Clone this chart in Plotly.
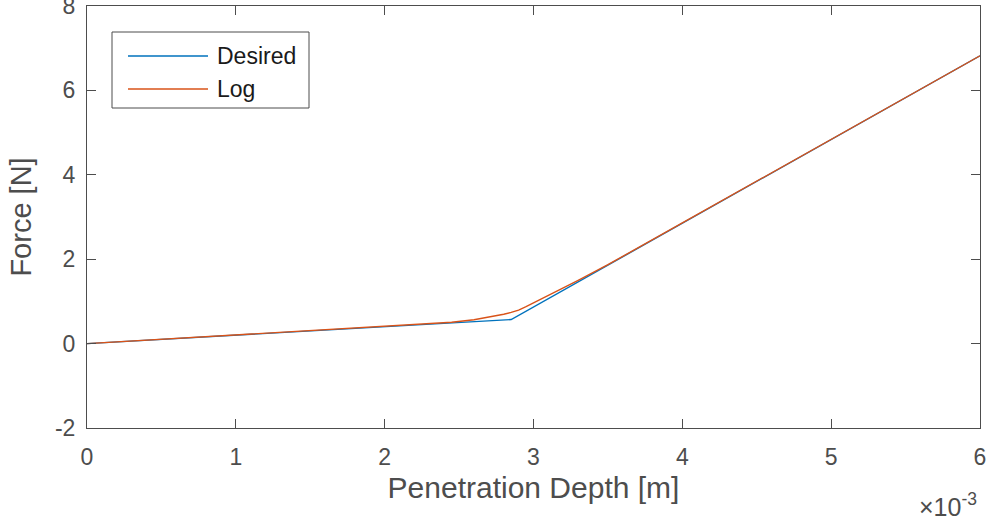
import plotly.graph_objects as go

# Data (x in metres, force in N)
desired_x = [0.0, 0.00285, 0.006]
desired_y = [0.0, 0.57, 6.82]

log_x = [0.0, 0.0005, 0.001, 0.0015, 0.002, 0.0023, 0.00245, 0.0026, 0.0027, 0.0028,
         0.00285, 0.0029, 0.00295, 0.003, 0.0031, 0.0032, 0.0033, 0.0034, 0.0035,
         0.004, 0.005, 0.006]
log_y = [0.0, 0.10, 0.20, 0.30, 0.40, 0.46, 0.505, 0.565, 0.625, 0.695,
         0.74, 0.795, 0.875, 0.96, 1.14, 1.32, 1.50, 1.68, 1.87,
         2.86, 4.84, 6.82]

x_tickvals = [0, 0.001, 0.002, 0.003, 0.004, 0.005, 0.006]
x_ticktext = ["0", "1", "2", "3", "4", "5", "6"]
y_tickvals = [-2, 0, 2, 4, 6, 8]
y_ticktext = ["-2", "0", "2", "4", "6", "8"]

series_names = ["Desired", "Log"]
series_colors = ["#0072BD", "#D95319"]

AX = "#4d4d4d"
FONT = "Liberation Sans, Arial, Helvetica, sans-serif"

fig = go.Figure()
fig.add_trace(go.Scatter(x=desired_x, y=desired_y, mode="lines", name=series_names[0],
                         line=dict(color=series_colors[0], width=1.4), showlegend=False))
fig.add_trace(go.Scatter(x=log_x, y=log_y, mode="lines", name=series_names[1],
                         line=dict(color=series_colors[1], width=1.4), showlegend=False))

axis_common = dict(showgrid=False, zeroline=False, showline=True, mirror="ticks",
                   linecolor=AX, linewidth=1, ticks="inside", ticklen=9, tickcolor=AX,
                   ticklabeloverflow="allow", automargin=False,
                   tickfont=dict(family=FONT, size=23, color=AX))

fig.update_layout(
    width=990, height=520,
    margin=dict(l=87, r=10, t=6, b=92),
    paper_bgcolor="white", plot_bgcolor="white",
    font=dict(family=FONT, color=AX),
    xaxis=dict(range=[0, 0.006], tickvals=x_tickvals, ticktext=x_ticktext,
               ticklabelstandoff=8,
               title=dict(text="Penetration Depth [m]", font=dict(size=30, family=FONT, color=AX), standoff=8),
               **axis_common),
    yaxis=dict(range=[-2, 8], tickvals=y_tickvals, ticktext=y_ticktext,
               ticklabelstandoff=6,
               title=dict(text="Force [N]", font=dict(size=29, family=FONT, color=AX), standoff=14),
               **axis_common),
    showlegend=False,
)

# Custom MATLAB-style legend (paper coordinates of plot area 87..980 x, 6..428 y)
def px_x(p):
    return (p - 87) / 893.0

def px_y(p):
    return (428 - p) / 422.0

fig.add_shape(type="rect", xref="paper", yref="paper",
              x0=px_x(112), x1=px_x(309), y0=px_y(108), y1=px_y(32),
              line=dict(color=AX, width=1), fillcolor="white", layer="above")
for i, (name, col) in enumerate(zip(series_names, series_colors)):
    yy = 56 + 33 * i
    fig.add_shape(type="line", xref="paper", yref="paper",
                  x0=px_x(128), x1=px_x(208), y0=px_y(yy), y1=px_y(yy),
                  line=dict(color=col, width=1.4), layer="above")
    fig.add_annotation(text=name, xref="paper", yref="paper", x=px_x(215), y=px_y(yy),
                       xanchor="left", yanchor="middle", showarrow=False,
                       font=dict(family=FONT, size=23, color="#1a1a1a"))

fig.add_annotation(text="×10<sup>-3</sup>", xref="paper", yref="paper", x=px_x(979), y=px_y(487),
                   xanchor="right", yanchor="top", showarrow=False,
                   font=dict(family=FONT, size=25, color=AX))

fig.write_html("out.html")
